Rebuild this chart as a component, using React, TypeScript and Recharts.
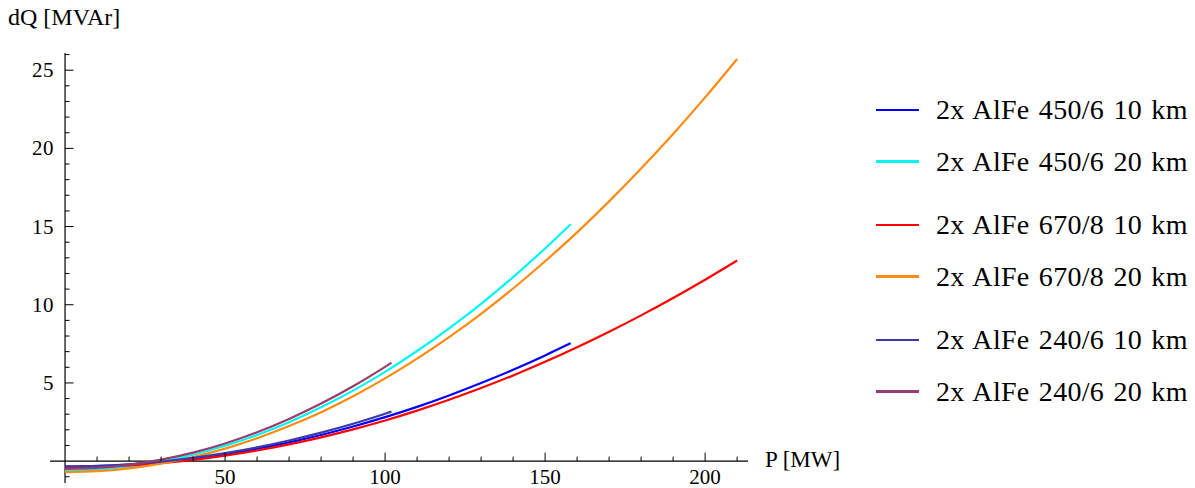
import React from 'react';
import { LineChart, Line, XAxis, YAxis, ReferenceLine } from 'recharts';

// reactive power losses dQ [MVAr] against transmitted power P [MW]
const al450_10km = [
  { p: 0, q: -0.35 }, { p: 10, q: -0.32 }, { p: 20, q: -0.22 }, { p: 30, q: -0.07 },
  { p: 40, q: 0.16 }, { p: 50, q: 0.44 }, { p: 60, q: 0.79 }, { p: 70, q: 1.2 },
  { p: 80, q: 1.67 }, { p: 90, q: 2.21 }, { p: 100, q: 2.81 }, { p: 110, q: 3.47 },
  { p: 120, q: 4.2 }, { p: 130, q: 4.99 }, { p: 140, q: 5.84 }, { p: 150, q: 6.76 },
  { p: 158, q: 7.54 },
];

const al450_20km = [
  { p: 0, q: -0.6 }, { p: 10, q: -0.54 }, { p: 20, q: -0.35 }, { p: 30, q: -0.03 },
  { p: 40, q: 0.41 }, { p: 50, q: 0.98 }, { p: 60, q: 1.67 }, { p: 70, q: 2.49 },
  { p: 80, q: 3.44 }, { p: 90, q: 4.51 }, { p: 100, q: 5.71 }, { p: 110, q: 7.04 },
  { p: 120, q: 8.49 }, { p: 130, q: 10.06 }, { p: 140, q: 11.77 }, { p: 150, q: 13.6 },
  { p: 158, q: 15.15 },
];

const al670_10km = [
  { p: 0, q: -0.4 }, { p: 10, q: -0.37 }, { p: 20, q: -0.28 }, { p: 30, q: -0.13 },
  { p: 40, q: 0.08 }, { p: 50, q: 0.35 }, { p: 60, q: 0.68 }, { p: 70, q: 1.07 },
  { p: 80, q: 1.52 }, { p: 90, q: 2.03 }, { p: 100, q: 2.6 }, { p: 110, q: 3.23 },
  { p: 120, q: 3.92 }, { p: 130, q: 4.67 }, { p: 140, q: 5.48 }, { p: 150, q: 6.35 },
  { p: 160, q: 7.28 }, { p: 170, q: 8.27 }, { p: 180, q: 9.32 }, { p: 190, q: 10.43 },
  { p: 200, q: 11.6 }, { p: 210, q: 12.83 },
];

const al670_20km = [
  { p: 0, q: -0.7 }, { p: 10, q: -0.64 }, { p: 20, q: -0.46 }, { p: 30, q: -0.16 },
  { p: 40, q: 0.26 }, { p: 50, q: 0.8 }, { p: 60, q: 1.46 }, { p: 70, q: 2.24 },
  { p: 80, q: 3.13 }, { p: 90, q: 4.15 }, { p: 100, q: 5.29 }, { p: 110, q: 6.55 },
  { p: 120, q: 7.93 }, { p: 130, q: 9.42 }, { p: 140, q: 11.04 }, { p: 150, q: 12.78 },
  { p: 160, q: 14.63 }, { p: 170, q: 16.61 }, { p: 180, q: 18.71 }, { p: 190, q: 20.92 },
  { p: 200, q: 23.26 }, { p: 210, q: 25.72 },
];

const al240_10km = [
  { p: 0, q: -0.33 }, { p: 10, q: -0.3 }, { p: 20, q: -0.2 }, { p: 30, q: -0.03 },
  { p: 40, q: 0.21 }, { p: 50, q: 0.51 }, { p: 60, q: 0.88 }, { p: 70, q: 1.32 },
  { p: 80, q: 1.82 }, { p: 90, q: 2.39 }, { p: 100, q: 3.03 }, { p: 102, q: 3.17 },
];

const al240_20km = [
  { p: 0, q: -0.5 }, { p: 10, q: -0.43 }, { p: 20, q: -0.24 }, { p: 30, q: 0.09 },
  { p: 40, q: 0.54 }, { p: 50, q: 1.13 }, { p: 60, q: 1.85 }, { p: 70, q: 2.7 },
  { p: 80, q: 3.68 }, { p: 90, q: 4.79 }, { p: 100, q: 6.03 }, { p: 102, q: 6.29 },
];

const series = [
  { name: '2x AlFe 450/6 10 km', data: al450_10km, color: '#0000ff' },
  { name: '2x AlFe 450/6 20 km', data: al450_20km, color: '#00f5f5' },
  { name: '2x AlFe 670/8 10 km', data: al670_10km, color: '#ff0000' },
  { name: '2x AlFe 670/8 20 km', data: al670_20km, color: '#ff8a10' },
  { name: '2x AlFe 240/6 10 km', data: al240_10km, color: '#3a3aa8' },
  { name: '2x AlFe 240/6 20 km', data: al240_20km, color: '#983c70' },
];

const xTicks = [10, 20, 30, 40, 50, 60, 70, 80, 90, 100, 110, 120, 130, 140, 150, 160, 170, 180, 190, 200, 210];
const yTicks = [-1, 0, 1, 2, 3, 4, 5, 6, 7, 8, 9, 10, 11, 12, 13, 14, 15, 16, 17, 18, 19, 20, 21, 22, 23, 24, 25, 26];

const W = 1195;
const H = 488;
const X_DOMAIN: [number, number] = [-4.7, 213.4];
const Y_DOMAIN: [number, number] = [-1.4, 26.1];
const M = { top: 53, right: 447, bottom: 0, left: 40 };
const X_AXIS_H = 5;
const Y_AXIS_W = 10;
const plotL = M.left + Y_AXIS_W;
const plotW = W - plotL - M.right;
const plotH = H - M.top - M.bottom - X_AXIS_H;
// axes cross at the origin, not at the plot edges
const zeroX = plotL + ((0 - X_DOMAIN[0]) / (X_DOMAIN[1] - X_DOMAIN[0])) * plotW;
const zeroY = M.top + ((Y_DOMAIN[1] - 0) / (Y_DOMAIN[1] - Y_DOMAIN[0])) * plotH;

const FONT = '"Liberation Serif", serif';

const XTick = (props: any) => {
  const { x, payload } = props;
  const major = payload.value % 50 === 0;
  return (
    <g>
      <line x1={x} x2={x} y1={zeroY} y2={zeroY - (major ? 8.5 : 4.5)} stroke="#000" strokeWidth={1} />
      {major && (
        <text x={x} y={484} textAnchor="middle" fontSize={21} fontFamily={FONT} fill="#000">
          {payload.value}
        </text>
      )}
    </g>
  );
};

const YTick = (props: any) => {
  const { y, payload } = props;
  const v = payload.value;
  const major = v > 0 && v % 5 === 0;
  if (v === 0) return <g />;
  return (
    <g>
      <line x1={zeroX} x2={zeroX + (major ? 8.5 : 4.5)} y1={y} y2={y} stroke="#000" strokeWidth={1} />
      {major && (
        <text x={zeroX - 11} y={y + 7} textAnchor="end" fontSize={21} fontFamily={FONT} fill="#000" letterSpacing={0.5}>
          {v}
        </text>
      )}
    </g>
  );
};

const LegendBox = () => (
  <div style={{ position: 'absolute', left: 876, top: 110 - 25.85, fontFamily: FONT }}>
    {series.map((s, i) => (
      <div
        key={s.name}
        style={{
          display: 'flex',
          alignItems: 'center',
          height: 51.7,
          marginTop: i === 2 || i === 4 ? 11.6 : 0,
        }}
      >
        <div style={{ width: 43, height: 2.5, background: s.color, marginRight: 17 }} />
        <span style={{ fontSize: 28, letterSpacing: 0.3, wordSpacing: 2, color: '#000', whiteSpace: 'nowrap' }}>
          {s.name}
        </span>
      </div>
    ))}
  </div>
);

export default function App() {
  return (
    <div style={{ position: 'absolute', left: 0, top: 0, width: W, height: H, background: '#fff' }}>
      <LineChart width={W} height={H} margin={M}>
        <XAxis
          type="number"
          dataKey="p"
          domain={X_DOMAIN}
          ticks={xTicks}
          interval={0}
          height={X_AXIS_H}
          axisLine={false}
          tickLine={false}
          tickSize={0}
          tickMargin={0}
          tick={<XTick />}
          allowDataOverflow
        />
        <YAxis
          type="number"
          domain={Y_DOMAIN}
          ticks={yTicks}
          interval={0}
          width={Y_AXIS_W}
          axisLine={false}
          tickLine={false}
          tickSize={0}
          tickMargin={0}
          tick={<YTick />}
          allowDataOverflow
        />
        <ReferenceLine y={0} stroke="#000" strokeWidth={1.2} />
        <ReferenceLine x={0} stroke="#000" strokeWidth={1.2} />
        {series.map((s) => (
          <Line
            key={s.name}
            data={s.data}
            dataKey="q"
            name={s.name}
            type="monotone"
            stroke={s.color}
            strokeWidth={2.2}
            dot={false}
            isAnimationActive={false}
          />
        ))}
      </LineChart>
      <div style={{ position: 'absolute', left: 8, top: 4, fontFamily: FONT, fontSize: 24, color: '#000' }}>
        dQ [MVAr]
      </div>
      <div style={{ position: 'absolute', left: 765, top: 447, fontFamily: FONT, fontSize: 23, color: '#000' }}>
        P [MW]
      </div>
      <LegendBox />
    </div>
  );
}
